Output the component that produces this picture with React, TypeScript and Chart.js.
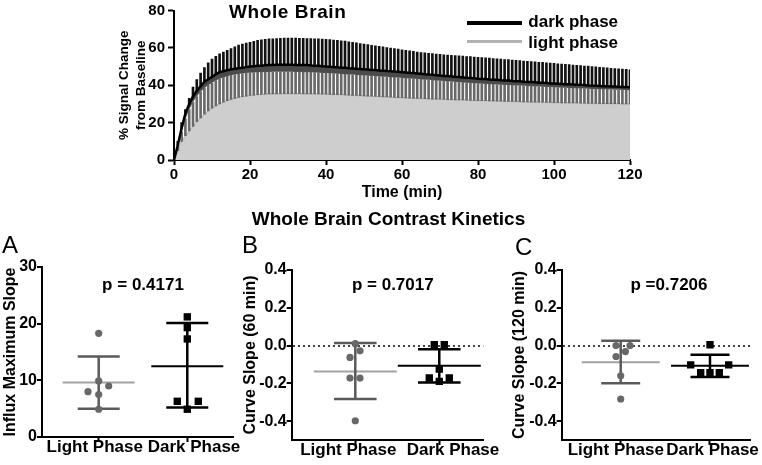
import React, { useEffect, useRef } from "react";
import { Chart, registerables } from "chart.js";

Chart.register(...registerables);

const FONT = '"Liberation Sans", Arial, Helvetica, sans-serif';

// ---------------- Top panel: whole-brain time course ----------------
const timeMin = [
  0, 1, 2, 3, 4, 5, 6, 7, 8, 9, 10,
  11, 12, 13, 14, 15, 16, 17, 18, 19, 20,
  21, 22, 23, 24, 25, 26, 27, 28, 29, 30,
  31, 32, 33, 34, 35, 36, 37, 38, 39, 40,
  41, 42, 43, 44, 45, 46, 47, 48, 49, 50,
  51, 52, 53, 54, 55, 56, 57, 58, 59, 60,
  61, 62, 63, 64, 65, 66, 67, 68, 69, 70,
  71, 72, 73, 74, 75, 76, 77, 78, 79, 80,
  81, 82, 83, 84, 85, 86, 87, 88, 89, 90,
  91, 92, 93, 94, 95, 96, 97, 98, 99, 100,
  101, 102, 103, 104, 105, 106, 107, 108, 109, 110,
  111, 112, 113, 114, 115, 116, 117, 118, 119, 120,
];

const darkMean = [
  0, 8, 17, 25, 30, 34, 37, 39.5, 41.8, 43.2, 44.5,
  45.8, 47, 47.5, 48, 48.5, 48.8, 49.1, 49.4, 49.7, 50,
  50.2, 50.4, 50.5, 50.7, 50.8, 50.9, 51, 51, 51, 51,
  51, 50.9, 50.9, 50.8, 50.8, 50.6, 50.5, 50.4, 50.2, 50,
  49.9, 49.7, 49.6, 49.4, 49.3, 49.1, 49, 48.8, 48.7, 48.5,
  48.4, 48.2, 48.1, 47.9, 47.8, 47.6, 47.5, 47.3, 47.2, 47,
  46.8, 46.6, 46.5, 46.3, 46.1, 45.9, 45.7, 45.6, 45.4, 45.2,
  45, 44.9, 44.7, 44.5, 44.4, 44.2, 44, 43.9, 43.7, 43.5,
  43.4, 43.3, 43.1, 43, 42.9, 42.7, 42.6, 42.5, 42.3, 42.2,
  42.1, 41.9, 41.8, 41.7, 41.6, 41.4, 41.3, 41.2, 41, 40.9,
  40.8, 40.7, 40.6, 40.5, 40.4, 40.3, 40.2, 40.1, 39.9, 39.8,
  39.7, 39.6, 39.5, 39.4, 39.3, 39.3, 39.2, 39.1, 39, 38.9,
];

const darkUpper = [
  0, 10, 20, 27, 33, 39, 43, 46.5, 49.5, 52, 54,
  55.5, 56.8, 57.8, 58.7, 59.6, 60.6, 61.5, 62, 62.5, 63,
  63.5, 64, 64.3, 64.6, 64.8, 64.9, 65, 65.1, 65.2, 65.2,
  65.2, 65.2, 65.1, 65.1, 65, 65, 64.9, 64.8, 64.7, 64.6,
  64.4, 64.2, 64, 63.8, 63.6, 63.3, 63, 62.7, 62.3, 62,
  61.7, 61.4, 61.1, 60.8, 60.5, 60.2, 59.9, 59.6, 59.3, 59,
  58.7, 58.4, 58.1, 57.8, 57.5, 57.3, 57.1, 56.9, 56.7, 56.5,
  56.3, 56.2, 56, 55.9, 55.7, 55.6, 55.4, 55.3, 55.1, 55,
  54.8, 54.7, 54.5, 54.3, 54.1, 54, 53.8, 53.7, 53.5, 53.3,
  53.2, 53, 52.8, 52.7, 52.5, 52.3, 52.2, 52, 51.8, 51.7,
  51.5, 51.3, 51.2, 51, 50.8, 50.7, 50.5, 50.3, 50.2, 50,
  49.8, 49.6, 49.4, 49.3, 49.1, 48.9, 48.8, 48.6, 48.5, 48.3,
];

const lightMean = [
  0, 5, 10, 13, 15.5, 18, 20.5, 22.5, 24.5, 26.3, 27.8,
  29, 30, 30.9, 31.7, 32.4, 33, 33.5, 33.9, 34.2, 34.5,
  34.7, 34.9, 35.1, 35.2, 35.3, 35.4, 35.4, 35.5, 35.5, 35.5,
  35.5, 35.5, 35.5, 35.4, 35.4, 35.4, 35.3, 35.3, 35.2, 35.2,
  35.1, 35, 35, 34.9, 34.8, 34.7, 34.6, 34.5, 34.4, 34.3,
  34.2, 34.1, 34, 33.9, 33.8, 33.7, 33.6, 33.5, 33.4, 33.3,
  33.2, 33.1, 33, 32.9, 32.9, 32.8, 32.7, 32.6, 32.6, 32.5,
  32.4, 32.3, 32.3, 32.2, 32.1, 32.1, 32, 31.9, 31.9, 31.8,
  31.7, 31.7, 31.6, 31.6, 31.5, 31.5, 31.4, 31.3, 31.3, 31.2,
  31.2, 31.1, 31.1, 31, 31, 30.9, 30.9, 30.8, 30.8, 30.7,
  30.7, 30.6, 30.6, 30.5, 30.5, 30.5, 30.4, 30.4, 30.3, 30.3,
  30.3, 30.2, 30.2, 30.2, 30.1, 30.1, 30.1, 30, 30, 30,
];

const lightUpper = [
  0, 7, 15, 22, 27, 31, 34, 36.5, 38.5, 40, 41.3,
  42.5, 43.5, 44.2, 44.8, 45.3, 45.7, 46, 46.3, 46.5, 46.7,
  46.8, 46.9, 47, 47.1, 47.1, 47.2, 47.2, 47.2, 47.2, 47.2,
  47.2, 47.1, 47.1, 47, 47, 46.9, 46.8, 46.7, 46.6, 46.5,
  46.4, 46.3, 46.2, 46, 45.9, 45.8, 45.7, 45.5, 45.4, 45.3,
  45.1, 45, 44.9, 44.7, 44.6, 44.5, 44.3, 44.2, 44.1, 43.9,
  43.8, 43.6, 43.5, 43.3, 43.2, 43, 42.9, 42.7, 42.6, 42.4,
  42.3, 42.1, 42, 41.8, 41.7, 41.5, 41.4, 41.2, 41.1, 40.9,
  40.8, 40.7, 40.6, 40.5, 40.4, 40.3, 40.2, 40.1, 40, 39.9,
  39.8, 39.7, 39.6, 39.5, 39.4, 39.3, 39.2, 39.1, 39, 38.9,
  38.8, 38.7, 38.6, 38.5, 38.4, 38.4, 38.3, 38.2, 38.1, 38,
  38, 37.9, 37.8, 37.8, 37.7, 37.6, 37.6, 37.5, 37.4, 37.3,
];

const timeTicks = [0, 20, 40, 60, 80, 100, 120];
const signalTicks = [0, 20, 40, 60, 80];

// ---------------- Bottom panels: contrast kinetics ----------------
const phases = ["Light Phase", "Dark Phase"];

// A: influx maximum slope
const influxLight = [18.3, 9.9, 9.0, 8.0, 7.5, 4.9];
const influxDark = [21.2, 19.3, 17.3, 6.3, 6.3, 4.9];
const influxMean = [9.6, 12.5];
const influxUpper = [14.2, 20.1];
const influxLower = [5.0, 5.2];
const influxTicks = [0, 10, 20, 30];

// B: curve slope (60 min)
const slope60Light = [0.01, -0.063, -0.028, -0.172, -0.172, -0.398];
const slope60Dark = [0.004, 0.004, -0.125, -0.172, -0.172, -0.19];
const slope60Mean = [-0.137, -0.107];
const slope60Upper = [0.013, -0.019];
const slope60Lower = [-0.283, -0.195];

// C: curve slope (120 min)
const slope120Light = [0.0, 0.0, -0.032, -0.058, -0.16, -0.283];
const slope120Dark = [0.004, -0.102, -0.102, -0.143, -0.143, -0.143];
const slope120Mean = [-0.088, -0.107];
const slope120Upper = [0.025, -0.049];
const slope120Lower = [-0.2, -0.166];

const slopeTicks = [-0.4, -0.2, 0, 0.2, 0.4];

// point jitter (pixels) used only for drawing the dot plots
const jitA = { light: [0, 0, 10, -10.7, 0, 0], dark: [0, 0, 0, -10, 11, 0] };
const jitB = { light: [0, -5.3, 4.7, -5.3, 4.7, 0], dark: [-5, 5, 0, -10, 10, 0] };
const jitC = { light: [-4.7, 9.3, 4.7, -4.7, 0, 0], dark: [0, -19.3, 18.7, -9.3, 0, 9.3] };

// ---------------- Top chart ----------------
function TopChart() {
  const ref = useRef<HTMLCanvasElement>(null);
  useEffect(() => {
    const tickFont = { family: FONT, size: 15, weight: "bold" as const, lineHeight: 1 };
    const chart = new Chart(ref.current as HTMLCanvasElement, {
      type: "bar",
      data: {
        datasets: [
          {
            type: "line",
            label: "light phase",
            data: timeMin.map((t, i) => ({ x: t, y: lightMean[i] })),
            borderColor: "#bdbdbd",
            borderWidth: 1.5,
            backgroundColor: "#cecece",
            fill: "origin",
            pointRadius: 0,
            order: 5,
          },
          {
            type: "line",
            label: "light upper",
            data: timeMin.map((t, i) => ({ x: t, y: lightUpper[i] })),
            borderColor: "rgba(0,0,0,0)",
            borderWidth: 0,
            backgroundColor: "#4b4b4b",
            fill: 4,
            pointRadius: 0,
            order: 4,
          },
          {
            type: "bar",
            label: "light SD",
            data: timeMin.map((t, i) => ({ x: t, y: [lightMean[i], lightUpper[i]] })),
            backgroundColor: "#686868",
            barThickness: 2,
            grouped: false,
            order: 3,
          },
          {
            type: "bar",
            label: "dark SD",
            data: timeMin.map((t, i) => ({ x: t, y: [darkMean[i], darkUpper[i]] })),
            backgroundColor: "#111111",
            barThickness: 2,
            grouped: false,
            order: 2,
          },
          {
            type: "line",
            label: "dark phase",
            data: timeMin.map((t, i) => ({ x: t, y: darkMean[i] })),
            borderColor: "#000",
            borderWidth: 2.5,
            pointRadius: 0,
            fill: false,
            order: 1,
          },
        ] as any,
      },
      options: {
        animation: false,
        responsive: false,
        devicePixelRatio: 1,
        events: [],
        layout: { padding: { left: 0, top: 8, right: 132, bottom: 0 } },
        plugins: { legend: { display: false }, tooltip: { enabled: false } },
        scales: {
          x: {
            type: "linear",
            min: 0,
            max: 120,
            offset: false,
            afterBuildTicks: (s: any) => {
              s.ticks = timeTicks.map((v) => ({ value: v }));
            },
            ticks: { font: tickFont, color: "#000", padding: 2, maxRotation: 0, autoSkip: false },
            grid: { drawOnChartArea: false, offset: false, tickLength: 5, tickWidth: 2, tickColor: "#000" },
            border: { color: "#000", width: 2 },
            title: {
              display: true,
              text: "Time (min)",
              color: "#000",
              font: { family: FONT, size: 16, weight: "bold", lineHeight: 1.2 },
              padding: { top: 0, bottom: 3 },
            },
            afterFit: (s: any) => {
              s.height = 45;
            },
          } as any,
          y: {
            type: "linear",
            min: 0,
            max: 80,
            afterBuildTicks: (s: any) => {
              s.ticks = signalTicks.map((v) => ({ value: v }));
            },
            ticks: { font: tickFont, color: "#000", padding: 3 },
            grid: { drawOnChartArea: false, tickLength: 6, tickWidth: 2, tickColor: "#000" },
            border: { color: "#000", width: 2 },
            title: {
              display: true,
              text: ["% Signal Change", "from Baseline"],
              color: "#000",
              font: { family: FONT, size: 13.5, weight: "bold", lineHeight: 1.26 },
              padding: { top: 115.5, bottom: 0 },
            },
            afterFit: (s: any) => {
              s.width = 174;
            },
          } as any,
        },
      },
    });
    return () => chart.destroy();
  }, []);
  return (
    <canvas
      ref={ref}
      width={762}
      height={205}
      style={{ position: "absolute", left: 0, top: 0, width: 762, height: 205, display: "block" }}
    />
  );
}

// ---------------- Dot-plot panels ----------------
type PanelCfg = {
  id: string;
  left: number;
  top: number;
  width: number;
  height: number;
  area: { left: number; right: number; top: number; bottom: number };
  xMin: number;
  xMax: number;
  yMin: number;
  yMax: number;
  yTicks: number[];
  decimals: number;
  yTitle: string;
  yTitlePad: number;
  light: number[];
  dark: number[];
  jit: { light: number[]; dark: number[] };
  mean: number[];
  upper: number[];
  lower: number[];
  meanHalfPx: number;
  capHalfPx: number;
  labelPos: number[];
  zero: boolean;
};

const panels: PanelCfg[] = [
  {
    id: "A",
    left: 0,
    top: 225,
    width: 250,
    height: 240,
    area: { left: 42, right: 233, top: 42, bottom: 212 },
    xMin: 0.36,
    xMax: 2.516,
    yMin: 0,
    yMax: 30,
    yTicks: influxTicks,
    decimals: 0,
    yTitle: "Influx Maximum Slope",
    yTitlePad: 1.4,
    light: influxLight,
    dark: influxDark,
    jit: jitA,
    mean: influxMean,
    upper: influxUpper,
    lower: influxLower,
    meanHalfPx: 36,
    capHalfPx: 21,
    labelPos: [0.955, 2.076],
    zero: false,
  },
  {
    id: "B",
    left: 236,
    top: 225,
    width: 276,
    height: 240,
    area: { left: 55.7, right: 247.3, top: 45, bottom: 215 },
    xMin: 0.243,
    xMax: 2.524,
    yMin: -0.5,
    yMax: 0.4,
    yTicks: slopeTicks,
    decimals: 1,
    yTitle: "Curve Slope (60 min)",
    yTitlePad: 5.4,
    light: slope60Light,
    dark: slope60Dark,
    jit: jitB,
    mean: slope60Mean,
    upper: slope60Upper,
    lower: slope60Lower,
    meanHalfPx: 41.5,
    capHalfPx: 21.3,
    labelPos: [0.917, 2.163],
    zero: true,
  },
  {
    id: "C",
    left: 500,
    top: 225,
    width: 262,
    height: 240,
    area: { left: 61.7, right: 250.7, top: 45, bottom: 215 },
    xMin: 0.339,
    xMax: 2.456,
    yMin: -0.5,
    yMax: 0.4,
    yTicks: slopeTicks,
    decimals: 1,
    yTitle: "Curve Slope (120 min)",
    yTitlePad: 9.7,
    light: slope120Light,
    dark: slope120Dark,
    jit: jitC,
    mean: slope120Mean,
    upper: slope120Upper,
    lower: slope120Lower,
    meanHalfPx: 39,
    capHalfPx: 19.5,
    labelPos: [0.945, 2.028],
    zero: true,
  },
];

function Panel({ cfg }: { cfg: PanelCfg }) {
  const ref = useRef<HTMLCanvasElement>(null);
  useEffect(() => {
    const c = cfg;
    const pxPerUnit = (c.area.right - c.area.left) / (c.xMax - c.xMin);
    const cap = c.capHalfPx / pxPerUnit;
    const half = c.meanHalfPx / pxPerUnit;
    const tickFont = { family: FONT, size: 16, weight: "bold" as const };
    const groups = [
      { pts: c.light, jit: c.jit.light, color: "#686868", sdColor: "#5a5a5a", meanColor: "#a2a2a2", style: "circle", r: 3.6 },
      { pts: c.dark, jit: c.jit.dark, color: "#000000", sdColor: "#000000", meanColor: "#000000", style: "rect", r: 5.2 },
    ];
    const datasets: any[] = [];
    groups.forEach((g, gi) => {
      const x = gi + 1;
      datasets.push({
        type: "scatter",
        label: phases[gi],
        data: g.pts.map((v, i) => ({ x: x + g.jit[i] / pxPerUnit, y: v })),
        pointStyle: g.style,
        pointRadius: g.r,
        backgroundColor: g.color,
        borderWidth: 0,
        order: 0,
      });
      datasets.push({
        type: "line",
        label: phases[gi] + " SD",
        data: [
          { x: x - cap, y: c.upper[gi] },
          { x: x + cap, y: c.upper[gi] },
          { x: x, y: null },
          { x: x, y: c.upper[gi] },
          { x: x, y: c.lower[gi] },
          { x: x, y: null },
          { x: x - cap, y: c.lower[gi] },
          { x: x + cap, y: c.lower[gi] },
        ],
        borderColor: g.sdColor,
        borderWidth: 2.5,
        pointRadius: 0,
        spanGaps: false,
        fill: false,
        order: 1,
      });
      datasets.push({
        type: "line",
        label: phases[gi] + " mean",
        data: [
          { x: x - half, y: c.mean[gi] },
          { x: x + half, y: c.mean[gi] },
        ],
        borderColor: g.meanColor,
        borderWidth: 2,
        pointRadius: 0,
        fill: false,
        order: 2,
      });
    });

    const chart = new Chart(ref.current as HTMLCanvasElement, {
      type: "scatter",
      data: { datasets },
      options: {
        animation: false,
        responsive: false,
        devicePixelRatio: 1,
        events: [],
        layout: { padding: { left: 0, top: c.area.top, right: c.width - c.area.right, bottom: 0 } },
        plugins: { legend: { display: false }, tooltip: { enabled: false } },
        scales: {
          x: {
            type: "linear",
            min: c.xMin,
            max: c.xMax,
            weight: 0,
            afterBuildTicks: (s: any) => {
              s.ticks = [{ value: 1 }, { value: 2 }];
            },
            ticks: { display: false },
            grid: { drawOnChartArea: false, tickLength: 5, tickWidth: 2, tickColor: "#000" },
            border: { color: "#000", width: 2 },
            afterFit: (s: any) => {
              s.height = 0;
            },
          } as any,
          xl: {
            type: "linear",
            position: "bottom",
            min: c.xMin,
            max: c.xMax,
            weight: 1,
            afterBuildTicks: (s: any) => {
              s.ticks = c.labelPos.map((v) => ({ value: v }));
            },
            ticks: {
              callback: (_v: any, i: number) => phases[i],
              font: { family: FONT, size: 17, weight: "bold" },
              color: "#000",
              padding: 0,
              autoSkip: false,
              maxRotation: 0,
              minRotation: 0,
            },
            grid: { display: false, drawTicks: false },
            border: { display: false },
            afterFit: (s: any) => {
              s.height = c.height - c.area.bottom;
            },
          } as any,
          y: {
            type: "linear",
            min: c.yMin,
            max: c.yMax,
            afterBuildTicks: (s: any) => {
              s.ticks = c.yTicks.map((v) => ({ value: v }));
            },
            ticks: {
              callback: (v: any) => Number(v).toFixed(c.decimals),
              font: tickFont,
              color: "#000",
              padding: 0,
            },
            grid: {
              drawOnChartArea: c.zero,
              color: (ctx: any) => (ctx.tick && ctx.tick.value === 0 ? "#444444" : "rgba(0,0,0,0)"),
              lineWidth: 2,
              tickLength: 5,
              tickWidth: 2,
              tickColor: "#000",
            },
            border: { color: "#000", width: 2, dash: [2, 3] },
            title: {
              display: true,
              text: c.yTitle,
              color: "#000",
              font: { family: FONT, size: 16, weight: "bold", lineHeight: 1.2 },
              padding: { top: c.yTitlePad, bottom: 0 },
            },
            afterFit: (s: any) => {
              s.width = c.area.left;
            },
          } as any,
        },
      },
    });
    return () => chart.destroy();
  }, [cfg]);
  return (
    <canvas
      ref={ref}
      width={cfg.width}
      height={cfg.height}
      style={{ position: "absolute", left: cfg.left, top: cfg.top, width: cfg.width, height: cfg.height, display: "block" }}
    />
  );
}

// ---------------- Text helper ----------------
function Txt(props: {
  x: number;
  base: number;
  size: number;
  bold?: boolean;
  center?: boolean;
  ls?: number;
  children: React.ReactNode;
}) {
  const { x, base, size, bold = true, center = false, ls = 0, children } = props;
  return (
    <div
      style={{
        position: "absolute",
        left: x,
        top: base - 0.8465 * size,
        fontSize: size,
        lineHeight: `${size}px`,
        fontWeight: bold ? 700 : 400,
        letterSpacing: ls,
        whiteSpace: "nowrap",
        color: "#000",
        transform: center ? "translateX(-50%)" : undefined,
      }}
    >
      {children}
    </div>
  );
}

export default function App() {
  return (
    <div
      style={{
        position: "absolute",
        left: 0,
        top: 0,
        width: 762,
        height: 465,
        background: "#fff",
        fontFamily: FONT,
        overflow: "hidden",
      }}
    >
      <TopChart />
      {panels.map((p) => (
        <Panel key={p.id} cfg={p} />
      ))}

      <Txt x={229} base={18.3} size={19} ls={0.6}>
        Whole Brain
      </Txt>

      <div style={{ position: "absolute", left: 467, top: 21.3, width: 55, height: 4, background: "#000" }} />
      <div style={{ position: "absolute", left: 467, top: 40.2, width: 55, height: 3, background: "#b3b3b3" }} />
      <Txt x={528.3} base={27.3} size={17}>
        dark phase
      </Txt>
      <Txt x={528.3} base={48.3} size={17}>
        light phase
      </Txt>

      <Txt x={388.5} base={225} size={19} center>
        Whole Brain Contrast Kinetics
      </Txt>

      <Txt x={2} base={253} size={24} bold={false}>
        A
      </Txt>
      <Txt x={242} base={253} size={24} bold={false}>
        B
      </Txt>
      <Txt x={515} base={255} size={24} bold={false}>
        C
      </Txt>

      <Txt x={143} base={290} size={17} center>
        p = 0.4171
      </Txt>
      <Txt x={392.8} base={290} size={17} center>
        p = 0.7017
      </Txt>
      <Txt x={669} base={290} size={17} center>
        p =0.7206
      </Txt>
    </div>
  );
}
